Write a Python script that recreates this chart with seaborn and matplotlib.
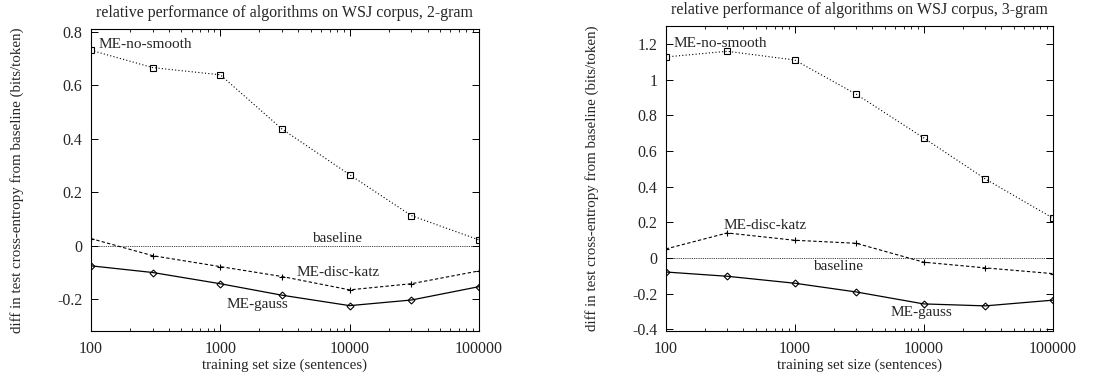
import numpy as np
import pandas as pd
import matplotlib
matplotlib.use("Agg")
import matplotlib.pyplot as plt
import seaborn as sns
from matplotlib.ticker import FixedLocator, LogLocator, NullFormatter

# ----- data -----
sizes = [100, 300, 1000, 3000, 10000, 30000, 100000]

bigram_nosmooth = [0.731, 0.666, 0.639, 0.436, 0.265, 0.112, 0.021]
bigram_katz = [0.026, -0.038, -0.079, -0.116, -0.166, -0.143, -0.095]
bigram_gauss = [-0.076, -0.101, -0.143, -0.186, -0.225, -0.204, -0.154]

trigram_nosmooth = [1.127, 1.159, 1.110, 0.918, 0.673, 0.443, 0.224]
trigram_katz = [0.050, 0.140, 0.099, 0.082, -0.024, -0.056, -0.088]
trigram_gauss = [-0.079, -0.103, -0.142, -0.191, -0.258, -0.269, -0.237]

titles = ["relative performance of algorithms on WSJ corpus, 2-gram",
          "relative performance of algorithms on WSJ corpus, 3-gram"]
ylabel = "diff in test cross-entropy from baseline (bits/token)"
xlabel = "training set size (sentences)"

sns.set_style("ticks")
plt.rcParams['font.family'] = ['Liberation Serif', 'DejaVu Serif']
plt.rcParams['font.size'] = 10.8

fig = plt.figure(figsize=(11.16, 3.75), dpi=100)
ax1 = fig.add_axes([0.0815, 0.1173, 0.3477, 0.805])
ax2 = fig.add_axes([0.5965, 0.1173, 0.3468, 0.813])


def draw(ax, nosmooth, katz, gauss, ylim, yticks, yticklabels, labels, title):
    df = pd.DataFrame({'size': sizes, 'nosmooth': nosmooth, 'katz': katz, 'gauss': gauss})
    ax.axhline(0, color='black', lw=0.6, linestyle=(0, (1, 1.2)), zorder=1)
    sns.lineplot(data=df, x='size', y='nosmooth', ax=ax, color='black', lw=0.8,
                 linestyle=(0, (1, 2)), marker='s', markersize=5,
                 markerfacecolor='none', markeredgecolor='black', markeredgewidth=0.8)
    sns.lineplot(data=df, x='size', y='katz', ax=ax, color='black', lw=0.8,
                 linestyle=(0, (3, 2)), marker='+', markersize=5,
                 markeredgecolor='black', markeredgewidth=0.8)
    sns.lineplot(data=df, x='size', y='gauss', ax=ax, color='black', lw=0.9,
                 marker='D', markersize=3.5, markerfacecolor='none',
                 markeredgecolor='black', markeredgewidth=0.8)
    ax.set_xscale('log')
    ax.set_xlim(100, 100000)
    ax.set_ylim(*ylim)
    ax.xaxis.set_major_locator(FixedLocator([100, 1000, 10000, 100000]))
    ax.set_xticklabels(['100', '1000', '10000', '100000'])
    ax.xaxis.set_minor_locator(LogLocator(base=10, subs=np.arange(2, 10), numticks=20))
    ax.xaxis.set_minor_formatter(NullFormatter())
    ax.set_yticks(yticks)
    ax.set_yticklabels(yticklabels)
    ax.tick_params(which='both', direction='in', top=True, right=True, color='black')
    ax.tick_params(which='major', length=5, width=0.7, labelsize=11.5, pad=6)
    ax.tick_params(axis='x', which='major', pad=7.5)
    ax.tick_params(which='minor', length=2.5, width=0.6)
    for s in ax.spines.values():
        s.set_linewidth(0.8)
        s.set_color('black')
    ax.set_xlabel(xlabel, fontsize=10.8, labelpad=1)
    ax.set_ylabel(ylabel, fontsize=10.8, labelpad=24)
    ax.set_title(title, fontsize=11.5, pad=9)
    for txt, x, y, ha in labels:
        ax.text(x, y, txt, ha=ha, va='center', fontsize=11)


draw(ax1, bigram_nosmooth, bigram_katz, bigram_gauss, (-0.32, 0.81),
     [-0.2, 0, 0.2, 0.4, 0.6, 0.8], ['-0.2', '0', '0.2', '0.4', '0.6', '0.8'],
     [("ME-no-smooth", 115, 0.752, 'left'), ("baseline", 7950, 0.028, 'center'),
      ("ME-disc-katz", 8100, -0.101, 'center'), ("ME-gauss", 1920, -0.219, 'center')],
     titles[0])
draw(ax2, trigram_nosmooth, trigram_katz, trigram_gauss, (-0.41, 1.3),
     [-0.4, -0.2, 0, 0.2, 0.4, 0.6, 0.8, 1.0, 1.2],
     ['-0.4', '-0.2', '0', '0.2', '0.4', '0.6', '0.8', '1', '1.2'],
     [("ME-no-smooth", 115, 1.202, 'left'), ("ME-disc-katz", 593, 0.181, 'center'),
      ("baseline", 2150, -0.050, 'center'), ("ME-gauss", 9530, -0.308, 'center')],
     titles[1])

fig.savefig('out.png', dpi=100)
